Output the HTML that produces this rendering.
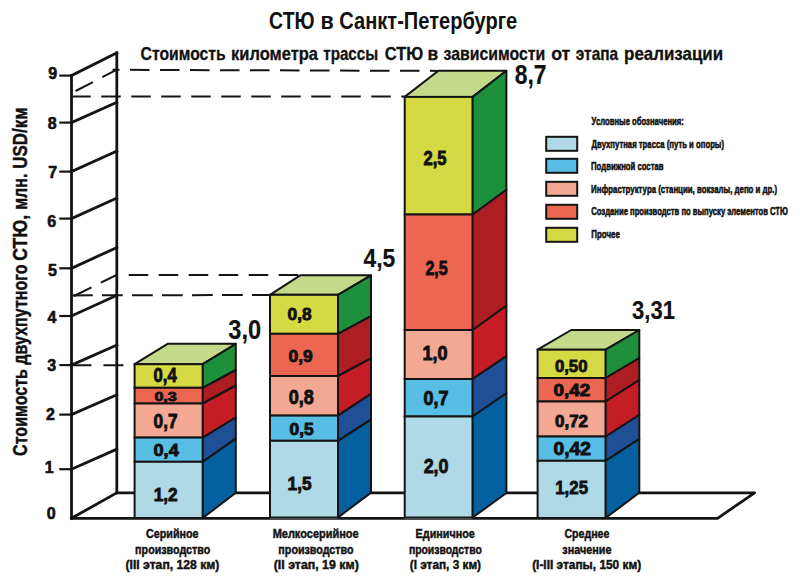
<!DOCTYPE html>
<html><head><meta charset="utf-8"><title>СТЮ в Санкт-Петербурге</title>
<style>
html,body{margin:0;padding:0;background:#fff;}
body{width:800px;height:585px;overflow:hidden;}
svg{display:block;}
text{font-family:"Liberation Sans", sans-serif;fill:#111;}
</style></head><body>
<svg width="800" height="585" viewBox="0 0 800 585">
<rect width="800" height="585" fill="#fff"/>
<g stroke="#141414" stroke-width="2.8" fill="none" stroke-linecap="square">
<line x1="71.5" y1="75.6" x2="71.5" y2="518.3"/>
<line x1="116.8" y1="52.8" x2="116.8" y2="492.8"/>
<line x1="71.5" y1="518.3" x2="116.8" y2="492.8"/>
<line x1="71.5" y1="469.2" x2="116.8" y2="449.2"/>
<line x1="71.5" y1="414.6" x2="116.8" y2="394.8"/>
<line x1="71.5" y1="365.1" x2="116.8" y2="345.0"/>
<line x1="71.5" y1="316.0" x2="116.8" y2="295.3"/>
<line x1="71.5" y1="268.3" x2="116.8" y2="247.5"/>
<line x1="71.5" y1="218.6" x2="116.8" y2="198.1"/>
<line x1="71.5" y1="171.6" x2="116.8" y2="151.1"/>
<line x1="71.5" y1="122.6" x2="116.8" y2="102.4"/>
<line x1="71.5" y1="75.6" x2="116.8" y2="52.8"/>
</g>
<g stroke="#141414" stroke-width="2.2">
<line x1="59.3" y1="469.2" x2="71.5" y2="469.2"/>
<line x1="59.3" y1="414.6" x2="71.5" y2="414.6"/>
<line x1="59.3" y1="365.1" x2="71.5" y2="365.1"/>
<line x1="59.3" y1="316.0" x2="71.5" y2="316.0"/>
<line x1="59.3" y1="268.3" x2="71.5" y2="268.3"/>
<line x1="59.3" y1="218.6" x2="71.5" y2="218.6"/>
<line x1="59.3" y1="171.6" x2="71.5" y2="171.6"/>
<line x1="59.3" y1="122.6" x2="71.5" y2="122.6"/>
<line x1="59.3" y1="75.6" x2="71.5" y2="75.6"/>
</g>
<text x="51.10" y="518.75" font-size="16" text-anchor="middle" stroke="#111" stroke-width="0.6" style="font-weight:bold">0</text>
<text x="49.20" y="473.35" font-size="16" text-anchor="middle" stroke="#111" stroke-width="0.6" style="font-weight:bold">1</text>
<text x="50.40" y="419.95" font-size="16" text-anchor="middle" stroke="#111" stroke-width="0.6" style="font-weight:bold">2</text>
<text x="51.80" y="371.15" font-size="16" text-anchor="middle" stroke="#111" stroke-width="0.6" style="font-weight:bold">3</text>
<text x="52.00" y="322.75" font-size="16" text-anchor="middle" stroke="#111" stroke-width="0.6" style="font-weight:bold">4</text>
<text x="52.50" y="275.55" font-size="16" text-anchor="middle" stroke="#111" stroke-width="0.6" style="font-weight:bold">5</text>
<text x="51.80" y="226.75" font-size="16" text-anchor="middle" stroke="#111" stroke-width="0.6" style="font-weight:bold">6</text>
<text x="52.70" y="178.15" font-size="16" text-anchor="middle" stroke="#111" stroke-width="0.6" style="font-weight:bold">7</text>
<text x="52.30" y="128.55" font-size="16" text-anchor="middle" stroke="#111" stroke-width="0.6" style="font-weight:bold">8</text>
<text x="52.60" y="79.35" font-size="16" text-anchor="middle" stroke="#111" stroke-width="0.6" style="font-weight:bold">9</text>
<polyline points="71.5,518.3 717.5,518.3 754.6,492.8 116.8,492.8" stroke="#141414" stroke-width="2.8" fill="none" stroke-linejoin="round"/>
<g stroke="#141414" stroke-width="2" fill="none" stroke-dasharray="20 10">
<line x1="71.25" y1="96.4" x2="404.7" y2="96.6" stroke-dasharray="19.5 10.5"/>
<line x1="112.5" y1="69.8" x2="438.5" y2="70.9" stroke-dasharray="19.5 10.5" stroke-dashoffset="12.5"/>
<line x1="75.6" y1="91" x2="116.5" y2="69.8" stroke-dasharray="19.5 10.5"/>
<line x1="72" y1="295.4" x2="270" y2="295" stroke-dasharray="20.75 9.25"/>
<line x1="128.75" y1="275" x2="300" y2="274.9" stroke-dasharray="19.5 10.5"/>
<line x1="74" y1="296" x2="116.5" y2="275" stroke-dasharray="19.5 10.5"/>
<line x1="71.4" y1="365.3" x2="134" y2="365.3" stroke-dasharray="20 12"/>
</g>
<polygon points="134.6,519 134.6,364.2 167.6,343.8 235.8,343.8 235.8,492.7 202.8,519" fill="#fff"/>
<polygon points="134.6,364.2 167.6,343.8 235.8,343.8 202.8,364.2" fill="#c5d98a" stroke="#141414" stroke-width="2" stroke-linejoin="round"/>
<rect x="134.6" y="364.2" width="68.2" height="23.6" fill="#d5d943" stroke="#141414" stroke-width="2"/>
<polygon points="202.8,364.2 235.8,343.8 235.8,370 202.8,387.8" fill="#1e8f3a" stroke="#141414" stroke-width="2" stroke-linejoin="round"/>
<rect x="134.6" y="387.8" width="68.2" height="15.7" fill="#ec6651" stroke="#141414" stroke-width="2"/>
<polygon points="202.8,387.8 235.8,370 235.8,385.5 202.8,403.5" fill="#ad1e22" stroke="#141414" stroke-width="2" stroke-linejoin="round"/>
<rect x="134.6" y="403.5" width="68.2" height="34.1" fill="#f2a892" stroke="#141414" stroke-width="2"/>
<polygon points="202.8,403.5 235.8,385.5 235.8,417.5 202.8,437.6" fill="#c41d25" stroke="#141414" stroke-width="2" stroke-linejoin="round"/>
<rect x="134.6" y="437.6" width="68.2" height="24.2" fill="#58bee6" stroke="#141414" stroke-width="2"/>
<polygon points="202.8,437.6 235.8,417.5 235.8,438.6 202.8,461.8" fill="#1e4f97" stroke="#141414" stroke-width="2" stroke-linejoin="round"/>
<rect x="134.6" y="461.8" width="68.2" height="56.2" fill="#b0d9e7" stroke="#141414" stroke-width="2"/>
<polygon points="202.8,461.8 235.8,438.6 235.8,492.7 202.8,518" fill="#05609f" stroke="#141414" stroke-width="2" stroke-linejoin="round"/>
<polygon points="270,518.5 270,294.8 300.2,275.3 371,275.3 371,492.6 338,518.5" fill="#fff"/>
<polygon points="270,294.8 300.2,275.3 371,275.3 338,294.8" fill="#c5d98a" stroke="#141414" stroke-width="2" stroke-linejoin="round"/>
<rect x="270" y="294.8" width="68.0" height="39.0" fill="#d5d943" stroke="#141414" stroke-width="2"/>
<polygon points="338,294.8 371,275.3 371,316.1 338,333.8" fill="#1e8f3a" stroke="#141414" stroke-width="2" stroke-linejoin="round"/>
<rect x="270" y="333.8" width="68.0" height="42.2" fill="#ec6651" stroke="#141414" stroke-width="2"/>
<polygon points="338,333.8 371,316.1 371,358.3 338,376" fill="#ad1e22" stroke="#141414" stroke-width="2" stroke-linejoin="round"/>
<rect x="270" y="376" width="68.0" height="39.6" fill="#f2a892" stroke="#141414" stroke-width="2"/>
<polygon points="338,376 371,358.3 371,393.9 338,415.6" fill="#c41d25" stroke="#141414" stroke-width="2" stroke-linejoin="round"/>
<rect x="270" y="415.6" width="68.0" height="25.2" fill="#58bee6" stroke="#141414" stroke-width="2"/>
<polygon points="338,415.6 371,393.9 371,419.6 338,440.8" fill="#1e4f97" stroke="#141414" stroke-width="2" stroke-linejoin="round"/>
<rect x="270" y="440.8" width="68.0" height="76.7" fill="#b0d9e7" stroke="#141414" stroke-width="2"/>
<polygon points="338,440.8 371,419.6 371,492.6 338,517.5" fill="#05609f" stroke="#141414" stroke-width="2" stroke-linejoin="round"/>
<polygon points="404.7,518.5 404.7,96.9 438.4,70.8 506.4,70.8 506.4,493 472.7,518.5" fill="#fff"/>
<polygon points="404.7,96.9 438.4,70.8 506.4,70.8 472.7,96.9" fill="#c5d98a" stroke="#141414" stroke-width="2" stroke-linejoin="round"/>
<rect x="404.7" y="96.9" width="68.0" height="117.6" fill="#d5d943" stroke="#141414" stroke-width="2"/>
<polygon points="472.7,96.9 506.4,70.8 506.4,189.7 472.7,214.5" fill="#1e8f3a" stroke="#141414" stroke-width="2" stroke-linejoin="round"/>
<rect x="404.7" y="214.5" width="68.0" height="115.5" fill="#ec6651" stroke="#141414" stroke-width="2"/>
<polygon points="472.7,214.5 506.4,189.7 506.4,305.7 472.7,330.0" fill="#ad1e22" stroke="#141414" stroke-width="2" stroke-linejoin="round"/>
<rect x="404.7" y="330.0" width="68.0" height="49.0" fill="#f2a892" stroke="#141414" stroke-width="2"/>
<polygon points="472.7,330.0 506.4,305.7 506.4,356.2 472.7,379" fill="#c41d25" stroke="#141414" stroke-width="2" stroke-linejoin="round"/>
<rect x="404.7" y="379" width="68.0" height="37.5" fill="#58bee6" stroke="#141414" stroke-width="2"/>
<polygon points="472.7,379 506.4,356.2 506.4,393.3 472.7,416.5" fill="#1e4f97" stroke="#141414" stroke-width="2" stroke-linejoin="round"/>
<rect x="404.7" y="416.5" width="68.0" height="101.0" fill="#b0d9e7" stroke="#141414" stroke-width="2"/>
<polygon points="472.7,416.5 506.4,393.3 506.4,493 472.7,517.5" fill="#05609f" stroke="#141414" stroke-width="2" stroke-linejoin="round"/>
<polygon points="537.6,519 537.6,349.7 571.1999999999999,330 639.3,330 639.3,492.6 605.7,519" fill="#fff"/>
<polygon points="537.6,349.7 571.2,330 639.3,330 605.7,349.7" fill="#c5d98a" stroke="#141414" stroke-width="2" stroke-linejoin="round"/>
<rect x="537.6" y="349.7" width="68.1" height="28.3" fill="#d5d943" stroke="#141414" stroke-width="2"/>
<polygon points="605.7,349.7 639.3,330 639.3,358 605.7,378" fill="#1e8f3a" stroke="#141414" stroke-width="2" stroke-linejoin="round"/>
<rect x="537.6" y="378" width="68.1" height="23.5" fill="#ec6651" stroke="#141414" stroke-width="2"/>
<polygon points="605.7,378 639.3,358 639.3,380 605.7,401.5" fill="#ad1e22" stroke="#141414" stroke-width="2" stroke-linejoin="round"/>
<rect x="537.6" y="401.5" width="68.1" height="35.0" fill="#f2a892" stroke="#141414" stroke-width="2"/>
<polygon points="605.7,401.5 639.3,380 639.3,415 605.7,436.5" fill="#c41d25" stroke="#141414" stroke-width="2" stroke-linejoin="round"/>
<rect x="537.6" y="436.5" width="68.1" height="24.3" fill="#58bee6" stroke="#141414" stroke-width="2"/>
<polygon points="605.7,436.5 639.3,415 639.3,439 605.7,460.8" fill="#1e4f97" stroke="#141414" stroke-width="2" stroke-linejoin="round"/>
<rect x="537.6" y="460.8" width="68.1" height="57.2" fill="#b0d9e7" stroke="#141414" stroke-width="2"/>
<polygon points="605.7,460.8 639.3,439 639.3,492.6 605.7,518" fill="#05609f" stroke="#141414" stroke-width="2" stroke-linejoin="round"/>
<text x="153.60" y="382.44" font-size="19.44" textLength="23.17" lengthAdjust="spacingAndGlyphs" stroke="#111" stroke-width="0.85" style="font-weight:bold">0,4</text>
<text x="154.40" y="401.00" font-size="13.00" textLength="22.40" lengthAdjust="spacingAndGlyphs" stroke="#111" stroke-width="0.85" style="font-weight:bold">0,3</text>
<text x="153.60" y="427.52" font-size="19.54" textLength="24.03" lengthAdjust="spacingAndGlyphs" stroke="#111" stroke-width="0.85" style="font-weight:bold">0,7</text>
<text x="153.52" y="456.42" font-size="16.89" textLength="25.23" lengthAdjust="spacingAndGlyphs" stroke="#111" stroke-width="0.85" style="font-weight:bold">0,4</text>
<text x="153.66" y="501.46" font-size="18.17" textLength="24.00" lengthAdjust="spacingAndGlyphs" stroke="#111" stroke-width="0.85" style="font-weight:bold">1,2</text>
<text x="287.54" y="320.48" font-size="17.03" textLength="24.03" lengthAdjust="spacingAndGlyphs" stroke="#111" stroke-width="0.85" style="font-weight:bold">0,8</text>
<text x="288.62" y="361.56" font-size="16.93" textLength="24.10" lengthAdjust="spacingAndGlyphs" stroke="#111" stroke-width="0.85" style="font-weight:bold">0,9</text>
<text x="288.68" y="404.46" font-size="19.39" textLength="25.00" lengthAdjust="spacingAndGlyphs" stroke="#111" stroke-width="0.85" style="font-weight:bold">0,8</text>
<text x="289.48" y="434.52" font-size="15.65" textLength="24.18" lengthAdjust="spacingAndGlyphs" stroke="#111" stroke-width="0.85" style="font-weight:bold">0,5</text>
<text x="287.62" y="489.54" font-size="18.17" textLength="24.00" lengthAdjust="spacingAndGlyphs" stroke="#111" stroke-width="0.85" style="font-weight:bold">1,5</text>
<text x="423.50" y="165.42" font-size="19.54" textLength="23.10" lengthAdjust="spacingAndGlyphs" stroke="#111" stroke-width="0.85" style="font-weight:bold">2,5</text>
<text x="425.46" y="275.48" font-size="19.54" textLength="22.29" lengthAdjust="spacingAndGlyphs" stroke="#111" stroke-width="0.85" style="font-weight:bold">2,5</text>
<text x="422.56" y="359.60" font-size="19.44" textLength="25.04" lengthAdjust="spacingAndGlyphs" stroke="#111" stroke-width="0.85" style="font-weight:bold">1,0</text>
<text x="423.50" y="404.60" font-size="19.44" textLength="24.97" lengthAdjust="spacingAndGlyphs" stroke="#111" stroke-width="0.85" style="font-weight:bold">0,7</text>
<text x="423.64" y="472.54" font-size="20.87" textLength="24.97" lengthAdjust="spacingAndGlyphs" stroke="#111" stroke-width="0.85" style="font-weight:bold">2,0</text>
<text x="554.92" y="372.48" font-size="17.35" textLength="32.60" lengthAdjust="spacingAndGlyphs" stroke="#111" stroke-width="0.85" style="font-weight:bold">0,50</text>
<text x="553.62" y="395.60" font-size="15.62" textLength="36.48" lengthAdjust="spacingAndGlyphs" stroke="#111" stroke-width="0.85" style="font-weight:bold">0,42</text>
<text x="555.08" y="427.48" font-size="15.62" textLength="32.95" lengthAdjust="spacingAndGlyphs" stroke="#111" stroke-width="0.85" style="font-weight:bold">0,72</text>
<text x="553.54" y="455.48" font-size="17.44" textLength="37.43" lengthAdjust="spacingAndGlyphs" stroke="#111" stroke-width="0.85" style="font-weight:bold">0,42</text>
<text x="555.24" y="494.06" font-size="18.90" textLength="32.85" lengthAdjust="spacingAndGlyphs" stroke="#111" stroke-width="0.85" style="font-weight:bold">1,25</text>
<text x="228.25" y="338.50" font-size="27.10" textLength="32.82" lengthAdjust="spacingAndGlyphs" stroke="#111" stroke-width="0.15" style="font-weight:bold">3,0</text>
<text x="363.50" y="267.48" font-size="25.14" textLength="31.88" lengthAdjust="spacingAndGlyphs" stroke="#111" stroke-width="0.15" style="font-weight:bold">4,5</text>
<text x="514.72" y="84.05" font-size="27.00" textLength="31.90" lengthAdjust="spacingAndGlyphs" stroke="#111" stroke-width="0.15" style="font-weight:bold">8,7</text>
<text x="632.08" y="319.48" font-size="25.14" textLength="42.89" lengthAdjust="spacingAndGlyphs" stroke="#111" stroke-width="0.15" style="font-weight:bold">3,31</text>
<rect x="546.2" y="136.8" width="31" height="14" fill="#b0d9e7" stroke="#141414" stroke-width="2"/>
<rect x="546.2" y="158.8" width="31" height="14" fill="#58bee6" stroke="#141414" stroke-width="2"/>
<rect x="546.2" y="181.8" width="31" height="14" fill="#f2a892" stroke="#141414" stroke-width="2"/>
<rect x="546.2" y="204.8" width="31" height="14" fill="#ec6651" stroke="#141414" stroke-width="2"/>
<rect x="546.2" y="227.8" width="31" height="14" fill="#d5d943" stroke="#141414" stroke-width="2"/>
<text x="269.08" y="29.4" font-size="23.6" textLength="45.46" lengthAdjust="spacingAndGlyphs" style="font-weight:bold">СТЮ</text>
<text x="320.61" y="29.4" font-size="23.6" textLength="13.22" lengthAdjust="spacingAndGlyphs" style="font-weight:bold">в</text>
<text x="339.25" y="29.4" font-size="23.6" textLength="177.97" lengthAdjust="spacingAndGlyphs" style="font-weight:bold">Санкт-Петербурге</text>
<text x="140.56" y="60.0" font-size="18.5" textLength="85.13" lengthAdjust="spacingAndGlyphs" stroke="#111" stroke-width="0.3" style="font-weight:bold">Стоимость</text>
<text x="231.09" y="60.0" font-size="18.5" textLength="86.96" lengthAdjust="spacingAndGlyphs" stroke="#111" stroke-width="0.3" style="font-weight:bold">километра</text>
<text x="323.29" y="60.0" font-size="18.5" textLength="54.85" lengthAdjust="spacingAndGlyphs" stroke="#111" stroke-width="0.3" style="font-weight:bold">трассы</text>
<text x="384.83" y="60.0" font-size="18.5" textLength="38.46" lengthAdjust="spacingAndGlyphs" stroke="#111" stroke-width="0.3" style="font-weight:bold">СТЮ</text>
<text x="427.57" y="60.0" font-size="18.5" textLength="10.72" lengthAdjust="spacingAndGlyphs" stroke="#111" stroke-width="0.3" style="font-weight:bold">в</text>
<text x="443.49" y="60.0" font-size="18.5" textLength="101.68" lengthAdjust="spacingAndGlyphs" stroke="#111" stroke-width="0.3" style="font-weight:bold">зависимости</text>
<text x="551.22" y="60.0" font-size="18.5" textLength="19.07" lengthAdjust="spacingAndGlyphs" stroke="#111" stroke-width="0.3" style="font-weight:bold">от</text>
<text x="575.79" y="60.0" font-size="18.5" textLength="42.34" lengthAdjust="spacingAndGlyphs" stroke="#111" stroke-width="0.3" style="font-weight:bold">этапа</text>
<text x="624.09" y="60.0" font-size="18.5" textLength="99.04" lengthAdjust="spacingAndGlyphs" stroke="#111" stroke-width="0.3" style="font-weight:bold">реализации</text>
<text x="591.58" y="124.9" font-size="11" textLength="92.32" lengthAdjust="spacingAndGlyphs" stroke="#111" stroke-width="0.55" style="font-weight:bold">Условные обозначения:</text>
<text x="591.58" y="148.2" font-size="11" textLength="132.46" lengthAdjust="spacingAndGlyphs" stroke="#111" stroke-width="0.55" style="font-weight:bold">Двухпутная трасса (путь и опоры)</text>
<text x="591.05" y="170.4" font-size="11" textLength="72.48" lengthAdjust="spacingAndGlyphs" stroke="#111" stroke-width="0.55" style="font-weight:bold">Подвижной состав</text>
<text x="591.04" y="192.6" font-size="11" textLength="186.11" lengthAdjust="spacingAndGlyphs" stroke="#111" stroke-width="0.55" style="font-weight:bold">Инфраструктура (станции, вокзалы, депо и др.)</text>
<text x="591.23" y="215.3" font-size="11" textLength="196.73" lengthAdjust="spacingAndGlyphs" stroke="#111" stroke-width="0.55" style="font-weight:bold">Создание производств по выпуску элементов СТЮ</text>
<text x="591.24" y="237.8" font-size="11" textLength="28.66" lengthAdjust="spacingAndGlyphs" stroke="#111" stroke-width="0.55" style="font-weight:bold">Прочее</text>
<text x="146.04" y="538.4" font-size="12.6" textLength="52.56" lengthAdjust="spacingAndGlyphs" stroke="#111" stroke-width="0.45" style="font-weight:bold">Серийное</text>
<text x="135.11" y="554.0" font-size="12.6" textLength="75.21" lengthAdjust="spacingAndGlyphs" stroke="#111" stroke-width="0.45" style="font-weight:bold">производство</text>
<text x="125.52" y="569.0" font-size="12.6" textLength="93.82" lengthAdjust="spacingAndGlyphs" stroke="#111" stroke-width="0.45" style="font-weight:bold">(III этап, 128 км)</text>
<text x="272.65" y="538.4" font-size="12.6" textLength="85.99" lengthAdjust="spacingAndGlyphs" stroke="#111" stroke-width="0.45" style="font-weight:bold">Мелкосерийное</text>
<text x="278.36" y="554.0" font-size="12.6" textLength="75.21" lengthAdjust="spacingAndGlyphs" stroke="#111" stroke-width="0.45" style="font-weight:bold">производство</text>
<text x="273.71" y="569.0" font-size="12.6" textLength="85.11" lengthAdjust="spacingAndGlyphs" stroke="#111" stroke-width="0.45" style="font-weight:bold">(II этап, 19 км)</text>
<text x="415.61" y="538.4" font-size="12.6" textLength="59.24" lengthAdjust="spacingAndGlyphs" stroke="#111" stroke-width="0.45" style="font-weight:bold">Единичное</text>
<text x="408.88" y="554.0" font-size="12.6" textLength="72.93" lengthAdjust="spacingAndGlyphs" stroke="#111" stroke-width="0.45" style="font-weight:bold">производство</text>
<text x="409.78" y="569.0" font-size="12.6" textLength="71.28" lengthAdjust="spacingAndGlyphs" stroke="#111" stroke-width="0.45" style="font-weight:bold">(I этап, 3 км)</text>
<text x="564.39" y="538.4" font-size="12.6" textLength="44.99" lengthAdjust="spacingAndGlyphs" stroke="#111" stroke-width="0.45" style="font-weight:bold">Среднее</text>
<text x="562.35" y="554.0" font-size="12.6" textLength="49.20" lengthAdjust="spacingAndGlyphs" stroke="#111" stroke-width="0.45" style="font-weight:bold">значение</text>
<text x="532.13" y="569.0" font-size="12.6" textLength="109.12" lengthAdjust="spacingAndGlyphs" stroke="#111" stroke-width="0.45" style="font-weight:bold">(I-III этапы, 150 км)</text>
<g transform="translate(27.1,455.5) rotate(-90)">
<text x="-0.40" y="0" font-size="20.3" textLength="191.41" lengthAdjust="spacingAndGlyphs" stroke="#111" stroke-width="0.45" style="font-weight:bold">Стоимость двухпутного</text>
<text x="194.87" y="0" font-size="20.3" textLength="45.88" lengthAdjust="spacingAndGlyphs" stroke="#111" stroke-width="0.45" style="font-weight:bold">СТЮ,</text>
<text x="245.71" y="0" font-size="20.3" textLength="36.20" lengthAdjust="spacingAndGlyphs" stroke="#111" stroke-width="0.45" style="font-weight:bold">млн.</text>
<text x="286.87" y="0" font-size="20.3" textLength="61.36" lengthAdjust="spacingAndGlyphs" stroke="#111" stroke-width="0.45" style="font-weight:bold">USD/км</text>
</g>
</svg></body></html>
